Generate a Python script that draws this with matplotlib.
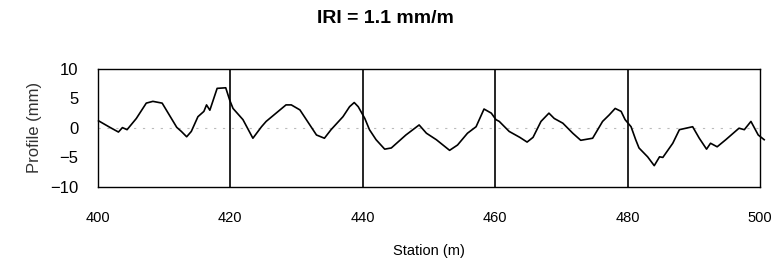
import matplotlib.pyplot as plt

plt.rcParams['font.family'] = ['Liberation Sans', 'DejaVu Sans']

# profile: station (m), elevation (mm)
station = [400.1, 401.8, 403.1, 403.7, 404.4, 405.8, 407.3, 408.3, 409.7, 411.9,
           412.6, 413.4, 414.1, 415.1, 416.0, 416.4, 416.9, 418.0, 419.3, 419.9,
           420.4, 421.9, 423.4, 424.7, 425.4, 426.9, 428.4, 429.2, 430.5, 432.0,
           433.0, 434.2, 435.2, 437.0, 438.0, 438.7, 439.3, 440.3, 441.0, 442.0,
           443.3, 444.3, 446.5, 448.5, 449.6, 451.1, 453.1, 454.3, 455.8, 457.1,
           458.3, 459.4, 460.1, 460.6, 462.1, 463.7, 464.8, 465.7, 466.9, 468.1,
           468.9, 470.2, 471.7, 472.9, 474.7, 476.2, 477.2, 478.1, 479.0, 479.6,
           480.5, 481.2, 481.7, 483.0, 484.0, 484.8, 485.3, 486.8, 487.8, 488.8,
           489.8, 490.8, 491.9, 492.5, 493.5, 494.8, 496.8, 497.6, 498.6, 499.7,
           500.6]
profile = [1.2, 0.1, -0.7, 0.05, -0.3, 1.6, 4.2, 4.5, 4.2, 0.1,
           -0.6, -1.5, -0.6, 1.9, 2.8, 3.9, 3.0, 6.7, 6.8, 4.7,
           3.3, 1.4, -1.75, 0.2, 1.1, 2.5, 3.9, 3.9, 3.05, 0.5,
           -1.2, -1.75, -0.3, 1.9, 3.6, 4.3, 3.6, 1.6, -0.3, -2.0,
           -3.6, -3.4, -1.2, 0.5, -0.9, -2.0, -3.8, -2.9, -0.9, 0.2,
           3.2, 2.5, 1.4, 1.1, -0.6, -1.6, -2.4, -1.6, 1.1, 2.5,
           1.6, 0.8, -0.9, -2.1, -1.75, 1.1, 2.2, 3.3, 2.8, 1.4,
           0.2, -2.0, -3.4, -4.9, -6.4, -4.9, -5.0, -2.6, -0.3, -0.05,
           0.2, -1.75, -3.6, -2.6, -3.2, -2.0, -0.05, -0.3, 1.1, -1.2,
           -2.0]
dividers = [420, 440, 460, 480]
xticks = [400, 420, 440, 460, 480, 500]
yticks = [-10, -5, 0, 5, 10]

fig = plt.figure(figsize=(7.71, 2.64), dpi=100)
ax = fig.add_axes([0.127, 0.292, 0.859, 0.447])

ax.axhline(0, color='#bbbbbb', linewidth=0.8, linestyle=(0, (2, 6)), zorder=1)
for d in dividers:
    ax.axvline(d, color='black', linewidth=1.2, zorder=2)
ax.plot(station, profile, color='black', linewidth=1.2, clip_on=False, zorder=3)

ax.set_xlim(400, 500)
ax.set_ylim(-10, 10)
ax.set_xticks(xticks)
ax.set_yticks(yticks)
ax.tick_params(length=0)
ax.tick_params(axis='x', pad=17, labelsize=10.5)
ax.tick_params(axis='y', pad=14, labelsize=12)
for s in ax.spines.values():
    s.set_linewidth(1.0)

ax.set_xlabel("Station (m)", fontsize=10.5, labelpad=14)
ax.set_ylabel("Profile (mm)", fontsize=12, color='#333333', labelpad=6)
fig.text(0.5, 0.93, "IRI = 1.1 mm/m", ha='center', va='center',
         fontsize=14, fontweight='bold')

fig.savefig("out.png", dpi=100)
